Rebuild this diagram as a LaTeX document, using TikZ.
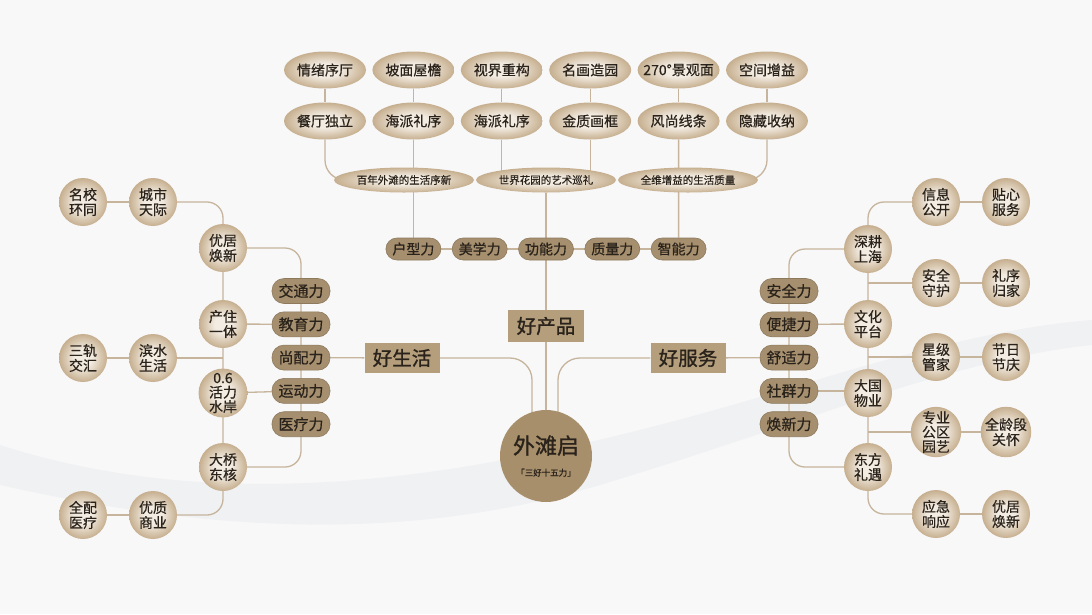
\documentclass[tikz,border=0pt]{standalone}
\usepackage{fontspec}
\setmainfont{Noto Sans CJK SC}[FakeBold=0.6]
\newfontfamily\heavyfont{Noto Sans CJK SC}[FakeBold=1.2]
\usepackage{xcolor}
\usetikzlibrary{
    shapes,
    positioning,
    calc
}
\definecolor{bgbase}{HTML}{F8F8F9}
\definecolor{wave}{HTML}{E8E9EC}
\definecolor{linetan}{HTML}{C6B59C}
\definecolor{ovalin}{HTML}{F3ECE2}
\definecolor{ovalout}{HTML}{C6AF8F}
\definecolor{pilltan}{HTML}{A68F6E}
\definecolor{boxtan}{HTML}{B49E7C}
\definecolor{hubtan}{HTML}{A88F6B}
\definecolor{txtdark}{HTML}{2A231B}
\pgfdeclarelayer{bg}
\pgfdeclarelayer{lines}
\pgfsetlayers{bg,lines,main}
\pgfdeclareradialshading{pearl}{\pgfpoint{0bp}{0bp}}{%
    color(0bp)=(ovalin); color(9bp)=(ovalin);
    color(25bp)=(ovalout); color(50bp)=(ovalout)}
\tikzset{%
    % Specifications for style of nodes:
    plain/.style = {},
    base/.style = {
        plain, inner sep=0pt,
        text centered, align=center, text=txtdark,
        font=\fontsize{14}{15}\selectfont
    },
    oval/.style = {base, ellipse, shade, shading=pearl,
        minimum width=82pt, minimum height=37pt},
    band/.style = {oval, minimum width=140pt, minimum height=25pt,
        font=\fontsize{10.5}{11}\selectfont},
    bead/.style = {base, circle, shade, shading=pearl, minimum size=48pt},
    pill/.style = {base, rectangle, rounded corners=12pt, fill=pilltan,
        draw=pilltan!85!black, line width=.6pt,
        minimum width=58pt, minimum height=25pt,
        font=\fontsize{15}{15}\selectfont},
    toppill/.style = {pill, rounded corners=11pt,
        minimum width=55pt, minimum height=22pt,
        font=\fontsize{14}{14}\selectfont},
    gate/.style = {base, rectangle, fill=boxtan,
        minimum width=76pt, minimum height=31pt,
        font=\heavyfont\fontsize{19.5}{20}\selectfont},
    hub/.style = {base, circle, fill=hubtan, minimum size=92pt,
        font=\heavyfont\fontsize{22}{22}\selectfont},
    link/.style = {draw=linetan, line width=1.3pt}
}
\begin{document}
\begin{tikzpicture}[x=1pt, y=-1pt, node distance=88.4pt]
\useasboundingbox (0,0) rectangle (1092,614);
% background
\begin{pgfonlayer}{bg}
\fill[bgbase] (0,0) rectangle (1092,614);
\fill[wave, opacity=.45] (0,445) .. controls (250,525) and (520,470) .. (800,385)
    .. controls (920,348) and (1020,325) .. (1092,320) -- (1092,345)
    .. controls (950,360) and (800,425) .. (600,485)
    .. controls (400,545) and (200,530) .. (0,485) -- cycle;
\end{pgfonlayer}
% Specification of nodes (position, etc.)
% good product: top
\node (qxxt)   [oval] at (325,70) {情绪序厅};
\node (pmwy)   [oval, right of=qxxt] {坡面屋檐};
\node (sjcg)   [oval, right of=pmwy] {视界重构};
\node (mhzy)   [oval, right of=sjcg] {名画造园};
\node (jgm)    [oval, right of=mhzy, inner xsep=-7pt] {270°景观面};
\node (kjzy)   [oval, right of=jgm] {空间增益};
\node (ctdl)   [oval, node distance=51pt, below of=qxxt] {餐厅独立};
\node (hpls)   [oval, node distance=51pt, below of=pmwy] {海派礼序};
\node (hpla)   [oval, node distance=51pt, below of=sjcg] {海派礼序};
\node (jzhk)   [oval, node distance=51pt, below of=mhzy] {金质画框};
\node (fsxt)   [oval, node distance=51pt, below of=jgm] {风尚线条};
\node (ycsn)   [oval, node distance=51pt, below of=kjzy] {隐藏收纳};
\node (bnwt)   [band] at (404,180) {百年外滩的生活序新};
\node (sjhy)   [band, node distance=142pt, right of=bnwt] {世界花园的艺术巡礼};
\node (qwzl)   [band, node distance=142pt, right of=sjhy] {全维增益的生活质量};
\node (hxl)    [toppill] at (413.4,249) {户型力};
\node (mxl)    [toppill, node distance=66.3pt, right of=hxl] {美学力};
\node (gnl)    [toppill, node distance=66.3pt, right of=mxl] {功能力};
\node (zll)    [toppill, node distance=66.3pt, right of=gnl] {质量力};
\node (znl)    [toppill, node distance=66.3pt, right of=zll] {智能力};
\node (hcp)    [gate, minimum height=32pt] at (546,326) {好产品};
\node (wtq)    [hub] at (546,456) {外滩启\\[0pt]{\fontsize{8.5}{9}\selectfont 「三好十五力」}};
\coordinate (hubl) at ($(wtq.center)+(-14,0)$);
\coordinate (hubr) at ($(wtq.center)+(12,0)$);
% good life: left
\node (hsh)    [gate, minimum width=75pt, minimum height=30pt] at (402,358) {好生活};
\node (jtl)    [pill] at (301,291) {交通力};
\node (jyl)    [pill, node distance=33.3pt, below of=jtl] {教育力};
\node (spl)    [pill, node distance=33.3pt, below of=jyl] {尚配力};
\node (ydl)    [pill, node distance=33.3pt, below of=spl] {运动力};
\node (ylil)   [pill, node distance=33.3pt, below of=ydl] {医疗力};
\node (yjhx)   [bead] at (223,248) {优居\\焕新};
\node (czyt)   [bead] at (223,324) {产住\\一体};
\node (hlsa)   [bead, font=\fontsize{14}{14.5}\selectfont] at (223,393) {0.6\\活力\\水岸};
\node (dqdh)   [bead] at (223,467) {大桥\\东核};
\node (cstj)   [bead] at (153,202) {城市\\天际};
\node (mxht)   [bead, node distance=70pt, left of=cstj] {名校\\环同};
\node (bssh)   [bead] at (153,358) {滨水\\生活};
\node (sgjh)   [bead, node distance=70pt, left of=bssh] {三轨\\交汇};
\node (yzsy)   [bead] at (153,515) {优质\\商业};
\node (qpyl)   [bead, node distance=70pt, left of=yzsy] {全配\\医疗};
% good service: right
\node (hfw)    [gate, minimum width=75pt, minimum height=30pt] at (688,358) {好服务};
\node (aql)    [pill] at (789,291) {安全力};
\node (bjl)    [pill, node distance=33.3pt, below of=aql] {便捷力};
\node (ssl)    [pill, node distance=33.3pt, below of=bjl] {舒适力};
\node (sql)    [pill, node distance=33.3pt, below of=ssl] {社群力};
\node (hxnl)   [pill, node distance=33.3pt, below of=sql] {焕新力};
\node (sgsh)   [bead] at (868,249) {深耕\\上海};
\node (whpt)   [bead] at (868,324) {文化\\平台};
\node (dgwy)   [bead] at (868,393) {大国\\物业};
\node (dfly)   [bead] at (868,467) {东方\\礼遇};
\node (xxgk)   [bead] at (936,202) {信息\\公开};
\node (txfw)   [bead, node distance=70pt, right of=xxgk] {贴心\\服务};
\node (aqsh)   [bead] at (936,283) {安全\\守护};
\node (lxgj)   [bead, node distance=70pt, right of=aqsh] {礼序\\归家};
\node (xjgj)   [bead] at (936,357) {星级\\管家};
\node (jrjq)   [bead, node distance=70pt, right of=xjgj] {节日\\节庆};
\node (zygq)   [bead, font=\fontsize{14}{14.5}\selectfont] at (936,432) {专业\\公区\\园艺};
\node (qlgh)   [bead, node distance=70pt, right of=zygq] {全龄段\\关怀};
\node (yjxy)   [bead] at (936,514) {应急\\响应};
\node (yjhxr)  [bead, node distance=70pt, right of=yjxy] {优居\\焕新};
% Specification of paths
\begin{pgfonlayer}{lines}
\draw[link] (qxxt) -- (ctdl);
\draw[link] (pmwy) -- (hpls);
\draw[link] (sjcg) -- (hpla);
\draw[link] (mhzy) -- (jzhk);
\draw[link] (jgm) -- (fsxt);
\draw[link] (kjzy) -- (ycsn);
\draw[link, rounded corners=20pt] (ctdl) |- (bnwt.center);
\draw[link] (hpls) -- (hxl);
\draw[link] (hpla) -- (hpla |- sjhy.center);
\draw[link] (jzhk) -- (jzhk |- sjhy.center);
\draw[link] (fsxt) -- (znl);
\draw[link, rounded corners=20pt] (ycsn) |- (qwzl.center);
\draw[link] (hxl) -- (znl);
\draw[link] (sjhy) -- (gnl);
\draw[link] (gnl) -- (hcp);
\draw[link] (hcp) -- (wtq);
\draw[link, rounded corners=22pt] (hsh) -| (hubl);
\draw[link, rounded corners=22pt] (hfw) -| (hubr);
% left
\draw[link] (hsh) -- (spl);
\draw[link, rounded corners=16pt] (yjhx) -| (jtl.center) |- (dqdh);
\draw[link] (czyt) -- (jyl);
\draw[link] (hlsa) -- (ydl);
\draw[link, rounded corners=16pt] (cstj) -| (yjhx.center) -- (dqdh.center) |- (yzsy);
\draw[link] (mxht) -- (cstj);
\draw[link] (sgjh) -- (bssh);
\draw[link] (bssh) -- (bssh -| yjhx);
\draw[link] (qpyl) -- (yzsy);
% right
\draw[link] (hfw) -- (ssl);
\draw[link, rounded corners=16pt] (sgsh) -| (aql.center) |- (dfly);
\draw[link] (bjl) -- (whpt);
\draw[link] (sql) -- (sql -| dgwy);
\draw[link, rounded corners=16pt] (xxgk) -| (sgsh.center) -- (dfly.center) |- (yjxy);
\draw[link] (aqsh) -- (aqsh -| sgsh);
\draw[link] (xjgj) -- (xjgj -| sgsh);
\draw[link] (zygq) -- (zygq -| sgsh);
\draw[link] (xxgk) -- (txfw);
\draw[link] (aqsh) -- (lxgj);
\draw[link] (xjgj) -- (jrjq);
\draw[link] (zygq) -- (qlgh);
\draw[link] (yjxy) -- (yjhxr);
\end{pgfonlayer}
\end{tikzpicture}
\end{document}
